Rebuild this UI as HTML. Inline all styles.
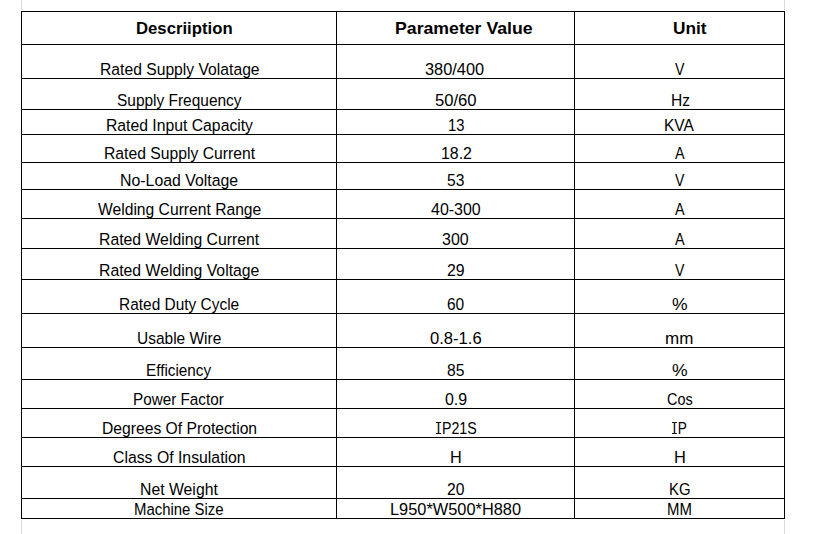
<!DOCTYPE html><html><head><meta charset="utf-8"><title>Specification</title><style>
html,body{margin:0;padding:0;background:#fff;}
body{width:825px;height:534px;position:relative;overflow:hidden;font-family:"Liberation Sans",sans-serif;color:#000;}
.h,.v,.g{position:absolute;background:#000;}
.g{background:#d9d9e3;}
.t{position:absolute;white-space:nowrap;line-height:20px;height:20px;font-size:16.7px;transform-origin:0 0;color:#000;}
.b{font-weight:bold;font-size:16.7px;color:#000;}
.I{display:inline-block;position:relative;width:5.6px;margin-right:1.4px;text-align:center;}
.I::before,.I::after{content:"";position:absolute;left:0;right:0;height:1px;background:#111;}
.I::before{top:3px}
.I::after{top:14px}
</style></head><body>
<div class="g" style="left:21px;top:0;width:1px;height:10px"></div>
<div class="g" style="left:784px;top:0;width:1px;height:10px"></div>
<div class="g" style="left:21px;top:520px;width:1px;height:14px"></div>
<div class="g" style="left:784px;top:520px;width:1px;height:14px"></div>
<div class="h" style="left:21px;top:11px;width:764px;height:1px"></div>
<div class="h" style="left:21px;top:44px;width:764px;height:1px"></div>
<div class="h" style="left:21px;top:78px;width:764px;height:1px"></div>
<div class="h" style="left:21px;top:109px;width:764px;height:1px"></div>
<div class="h" style="left:21px;top:134px;width:764px;height:1px"></div>
<div class="h" style="left:21px;top:162px;width:764px;height:1px"></div>
<div class="h" style="left:21px;top:189px;width:764px;height:1px"></div>
<div class="h" style="left:21px;top:218px;width:764px;height:1px"></div>
<div class="h" style="left:21px;top:248px;width:764px;height:1px"></div>
<div class="h" style="left:21px;top:279px;width:764px;height:1px"></div>
<div class="h" style="left:21px;top:313px;width:764px;height:1px"></div>
<div class="h" style="left:21px;top:347px;width:764px;height:1px"></div>
<div class="h" style="left:21px;top:379px;width:764px;height:1px"></div>
<div class="h" style="left:21px;top:408px;width:764px;height:1px"></div>
<div class="h" style="left:21px;top:437px;width:764px;height:1px"></div>
<div class="h" style="left:21px;top:466px;width:764px;height:1px"></div>
<div class="h" style="left:21px;top:498px;width:764px;height:1px"></div>
<div class="h" style="left:21px;top:518px;width:764px;height:1px"></div>
<div class="v" style="left:21px;top:11px;width:1px;height:508px"></div>
<div class="v" style="left:336px;top:11px;width:1px;height:508px"></div>
<div class="v" style="left:574px;top:11px;width:1px;height:508px"></div>
<div class="v" style="left:784px;top:11px;width:1px;height:508px"></div>
<div class="t b" style="left:135.81px;top:19.00px;transform:scaleX(1.0017)">Descriiption</div>
<div class="t b" style="left:394.66px;top:19.00px;transform:scaleX(1.0595)">Parameter Value</div>
<div class="t b" style="left:673.49px;top:19.00px;transform:scaleX(1.0348)">Unit</div>
<div class="t" style="left:99.61px;top:60.00px;transform:scaleX(0.9399)">Rated Supply Volatage</div>
<div class="t" style="left:425.09px;top:60.00px;transform:scaleX(0.9789)">380/400</div>
<div class="t" style="left:675.22px;top:60.00px;transform:scaleX(0.8458)">V</div>
<div class="t" style="left:116.95px;top:91.00px;transform:scaleX(0.9258)">Supply Frequency</div>
<div class="t" style="left:435.44px;top:91.00px;transform:scaleX(0.9966)">50/60</div>
<div class="t" style="left:670.52px;top:91.00px;transform:scaleX(0.9350)">Hz</div>
<div class="t" style="left:106.06px;top:116.00px;transform:scaleX(0.9432)">Rated Input Capacity</div>
<div class="t" style="left:448.20px;top:116.00px;transform:scaleX(0.8854)">13</div>
<div class="t" style="left:664.18px;top:116.00px;transform:scaleX(0.9285)">KVA</div>
<div class="t" style="left:104.06px;top:144.00px;transform:scaleX(0.9413)">Rated Supply Current</div>
<div class="t" style="left:440.87px;top:144.00px;transform:scaleX(0.9514)">18.2</div>
<div class="t" style="left:675.34px;top:144.00px;transform:scaleX(0.8627)">A</div>
<div class="t" style="left:119.65px;top:171.00px;transform:scaleX(0.9505)">No-Load Voltage</div>
<div class="t" style="left:447.27px;top:171.00px;transform:scaleX(0.9365)">53</div>
<div class="t" style="left:675.22px;top:171.00px;transform:scaleX(0.8458)">V</div>
<div class="t" style="left:98.29px;top:200.00px;transform:scaleX(0.9380)">Welding Current Range</div>
<div class="t" style="left:431.02px;top:200.00px;transform:scaleX(0.9565)">40-300</div>
<div class="t" style="left:675.34px;top:200.00px;transform:scaleX(0.8627)">A</div>
<div class="t" style="left:98.95px;top:230.00px;transform:scaleX(0.9456)">Rated Welding Current</div>
<div class="t" style="left:441.99px;top:230.00px;transform:scaleX(0.9570)">300</div>
<div class="t" style="left:675.34px;top:230.00px;transform:scaleX(0.8627)">A</div>
<div class="t" style="left:99.06px;top:261.00px;transform:scaleX(0.9465)">Rated Welding Voltage</div>
<div class="t" style="left:446.99px;top:261.00px;transform:scaleX(0.9525)">29</div>
<div class="t" style="left:675.22px;top:261.00px;transform:scaleX(0.8458)">V</div>
<div class="t" style="left:118.72px;top:295.00px;transform:scaleX(0.9257)">Rated Duty Cycle</div>
<div class="t" style="left:447.49px;top:295.00px;transform:scaleX(0.9283)">60</div>
<div class="t" style="left:672.09px;top:295.00px;transform:scaleX(1.0499)">%</div>
<div class="t" style="left:136.55px;top:329.00px;transform:scaleX(0.9278)">Usable Wire</div>
<div class="t" style="left:430.44px;top:329.00px;transform:scaleX(0.9950)">0.8-1.6</div>
<div class="t" style="left:665.45px;top:329.00px;transform:scaleX(1.0177)">mm</div>
<div class="t" style="left:146.15px;top:361.00px;transform:scaleX(0.9150)">Efficiency</div>
<div class="t" style="left:447.24px;top:361.00px;transform:scaleX(0.9373)">85</div>
<div class="t" style="left:672.09px;top:361.00px;transform:scaleX(1.0499)">%</div>
<div class="t" style="left:133.07px;top:390.00px;transform:scaleX(0.9144)">Power Factor</div>
<div class="t" style="left:444.52px;top:390.00px;transform:scaleX(0.9555)">0.9</div>
<div class="t" style="left:667.45px;top:390.00px;transform:scaleX(0.8639)">Cos</div>
<div class="t" style="left:101.88px;top:419.00px;transform:scaleX(0.9393)">Degrees Of Protection</div>
<div class="t" style="left:435.83px;top:419.00px;transform:scaleX(0.8491)"><span class="I">I</span>P21S</div>
<div class="t" style="left:672.25px;top:419.00px;transform:scaleX(0.8179)"><span class="I">I</span>P</div>
<div class="t" style="left:113.45px;top:448.00px;transform:scaleX(0.9468)">Class Of Insulation</div>
<div class="t" style="left:449.79px;top:448.00px;transform:scaleX(0.9754)">H</div>
<div class="t" style="left:673.56px;top:448.00px;transform:scaleX(0.9833)">H</div>
<div class="t" style="left:139.87px;top:480.00px;transform:scaleX(0.9464)">Net Weight</div>
<div class="t" style="left:447.00px;top:480.00px;transform:scaleX(0.9396)">20</div>
<div class="t" style="left:669.22px;top:480.00px;transform:scaleX(0.8910)">KG</div>
<div class="t" style="left:133.78px;top:500.00px;transform:scaleX(0.8932)">Machine Size</div>
<div class="t" style="left:390.16px;top:500.00px;transform:scaleX(0.9807)">L950*W500*H880</div>
<div class="t" style="left:667.20px;top:500.00px;transform:scaleX(0.8951)">MM</div>
</body></html>
